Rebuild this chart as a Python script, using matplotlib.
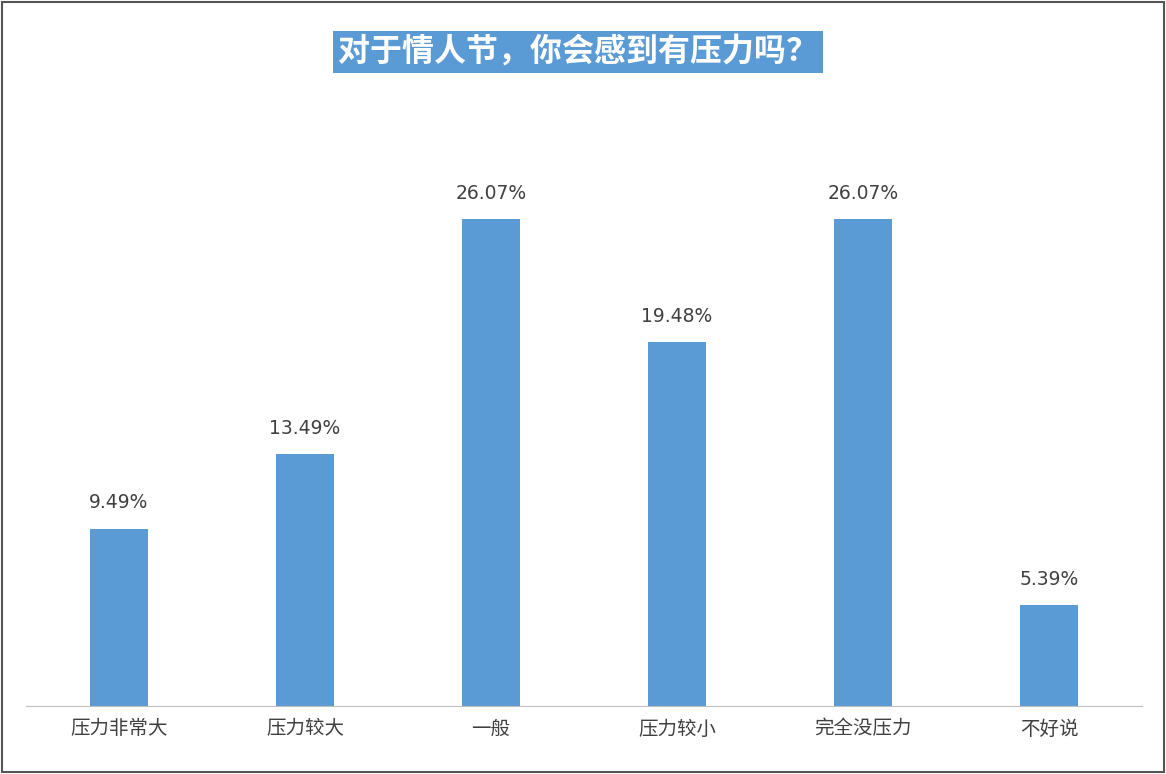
import matplotlib
matplotlib.use("Agg")
import matplotlib.pyplot as plt
from matplotlib.patches import Rectangle

plt.rcParams['font.family'] = ['Noto Sans CJK SC', 'DejaVu Sans']

categories = ["压力非常大", "压力较大", "一般", "压力较小", "完全没压力", "不好说"]
values = [9.49, 13.49, 26.07, 19.48, 26.07, 5.39]
labels = ["9.49%", "13.49%", "26.07%", "19.48%", "26.07%", "5.39%"]
title = "对于情人节，你会感到有压力吗？"

W, H = 1166, 774
fig = plt.figure(figsize=(W/100, H/100), dpi=100)
fig.patches.append(Rectangle((0.002, 0.002), 0.996, 0.996, transform=fig.transFigure,
                             fill=False, edgecolor="#555555", linewidth=1.5))
ax = fig.add_axes([26/W, (774-706)/H, (1142-26)/W, 560/H])
x = list(range(len(categories)))
ax.bar(x, values, width=0.315, color="#5B9BD5")
for xi, v, l in zip(x, values, labels):
    ax.annotate(l, (xi, v), xytext=(0, 12), textcoords="offset points",
                ha="center", va="bottom", fontsize=13.5, color="#404040",
                family=["DejaVu Sans"])
ax.set_xlim(-0.5, 5.5)
ax.set_ylim(0, 30)
ax.set_yticks([])
ax.set_xticks(x)
ax.set_xticklabels(categories, fontsize=14, color="#404040", fontweight="medium")
ax.tick_params(axis="x", length=0, pad=9)
for s in ["top", "left", "right"]:
    ax.spines[s].set_visible(False)
ax.spines["bottom"].set_color("#BFBFBF")
fig.text(0.5 - 5/W, 1 - 52/H, title, ha="center", va="center", fontsize=23, color="white",
         fontweight="bold",
         bbox=dict(boxstyle="square,pad=0.15", facecolor="#5B9BD5", edgecolor="none"))
fig.savefig("out.png", dpi=100)
